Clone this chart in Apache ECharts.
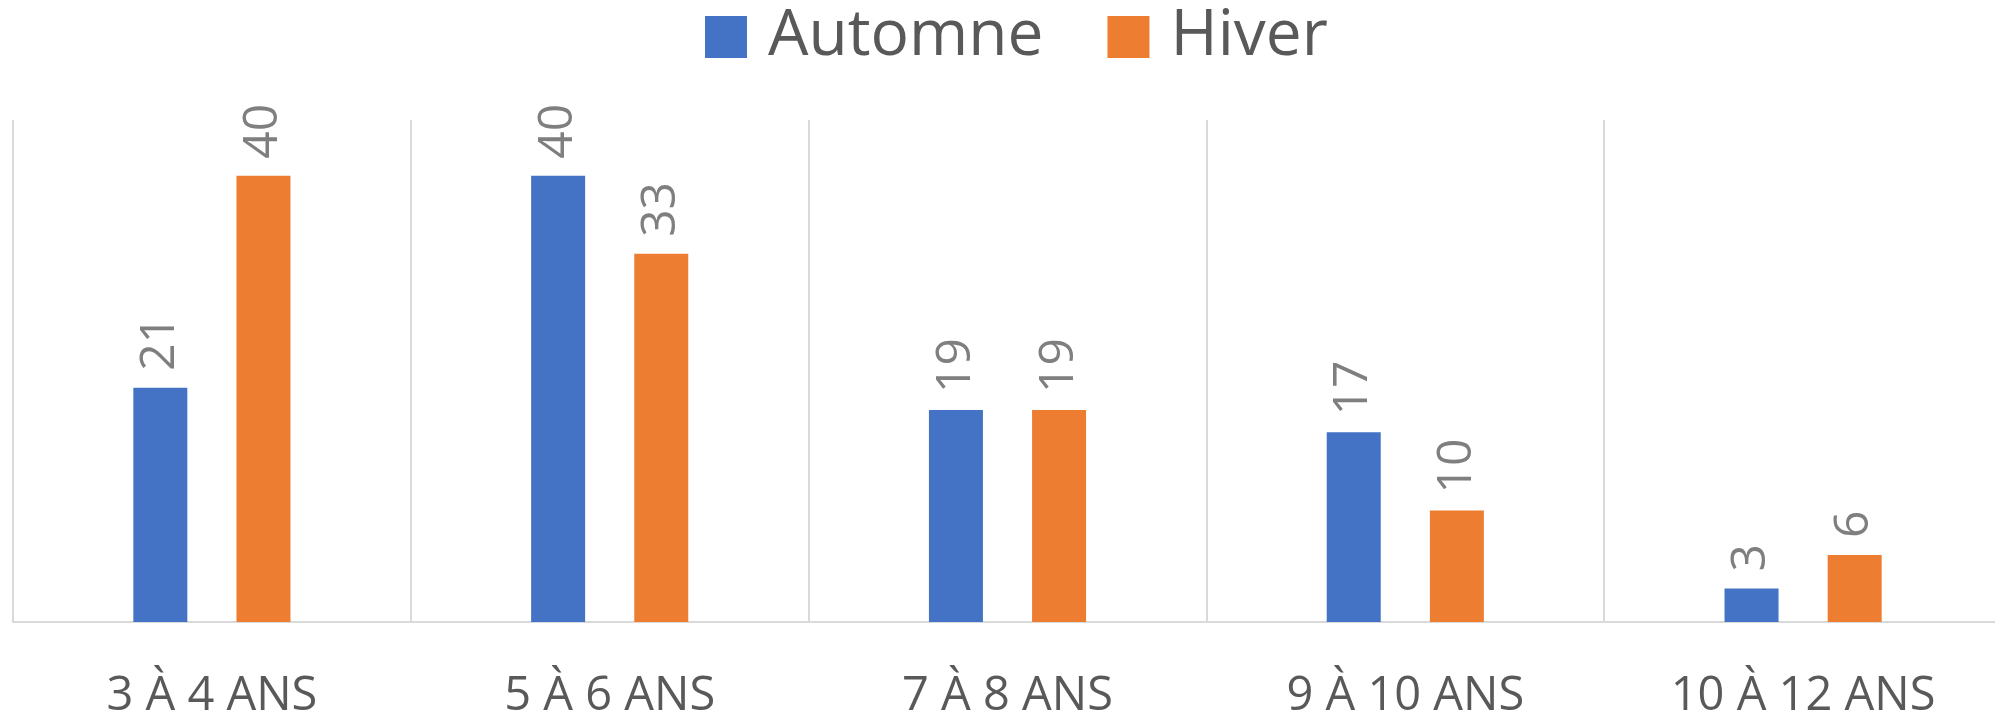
<!DOCTYPE html>
<html>
<head>
<meta charset="utf-8">
<script src="https://cdn.jsdelivr.net/npm/echarts@6/dist/echarts.min.js"></script>
<style>html,body{margin:0;padding:0;background:#fff}#c{width:1995px;height:710px}</style>
</head>
<body>
<div id="c"></div>
<script>
const categories = ['3 À 4 ANS', '5 À 6 ANS', '7 À 8 ANS', '9 À 10 ANS', '10 À 12 ANS'];
const automne = [21, 40, 19, 17, 3];
const hiver = [40, 33, 19, 10, 6];
const seriesNames = ['Automne', 'Hiver'];

const FONT = '"Open Sans", "Noto Sans", sans-serif';
const chart = echarts.init(document.getElementById('c'), null, {renderer: 'canvas'});
const labelCfg = {
  show: true, position: 'top', rotate: 90, align: 'left', verticalAlign: 'middle',
  distance: 17, color: '#7f7f7f', fontSize: 48, fontFamily: FONT
};
chart.setOption({
  animation: false,
  color: ['#4472C4', '#ED7D31'],
  legend: {
    top: 0, left: 700, itemWidth: 42, itemHeight: 42, itemGap: 64,
    icon: 'rect',
    textStyle: {color: '#595959', fontSize: 64, fontFamily: FONT, lineHeight: 42, padding: [8, 0, 0, 16]},
    data: seriesNames
  },
  grid: {left: 13, right: -7, top: 120, bottom: 88, containLabel: false, outerBoundsMode: 'none'},
  xAxis: {
    type: 'category', data: categories,
    axisLine: {show: true, lineStyle: {color: '#d9d9d9', width: 2}},
    axisTick: {show: false},
    splitLine: {show: true, lineStyle: {color: '#d9d9d9', width: 2}},
    axisLabel: {color: '#595959', fontSize: 47, fontFamily: FONT, margin: 51, lineHeight: 47, interval: 0}
  },
  yAxis: {
    type: 'value', min: 0, max: 45, interval: 5, show: false,
    splitLine: {show: false}
  },
  series: [
    {name: seriesNames[0], type: 'bar', data: automne, barWidth: 54, barGap: '91%', label: labelCfg},
    {name: seriesNames[1], type: 'bar', data: hiver, barWidth: 54, barGap: '91%', label: labelCfg}
  ]
});
</script>
</body>
</html>
